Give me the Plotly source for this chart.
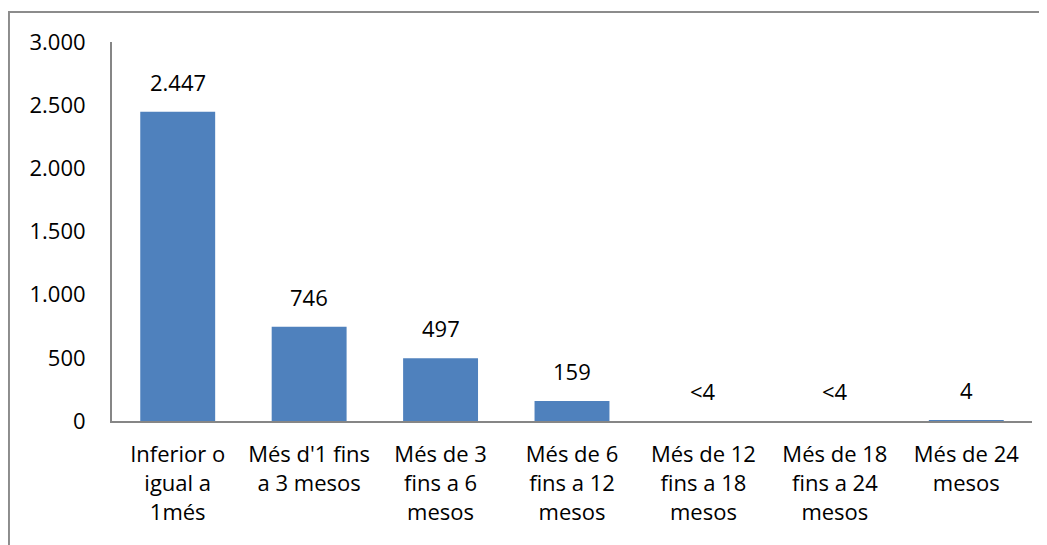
import plotly.graph_objects as go

categories = ["Inferior o<br>igual a<br>1més", "Més d'1 fins<br>a 3 mesos", "Més de 3<br>fins a 6<br>mesos",
              "Més de 6<br>fins a 12<br>mesos", "Més de 12<br>fins a 18<br>mesos", "Més de 18<br>fins a 24<br>mesos",
              "Més de 24<br>mesos"]
values = [2447, 746, 497, 159, 0, 0, 4]
value_labels = ["2.447", "746", "497", "159", "<4", "<4", "4"]
tick_vals = [0, 500, 1000, 1500, 2000, 2500, 3000]
tick_text = ["0", "500", "1.000", "1.500", "2.000", "2.500", "3.000"]

FONT = "Open Sans"
FS = 22
fig = go.Figure()
fig.add_trace(go.Bar(x=categories, y=values, marker=dict(color="#4F81BD", line=dict(width=0)),
                     hoverinfo="skip"))

for c, v, t in zip(categories, values, value_labels):
    fig.add_annotation(x=c, y=v, text=t, showarrow=False, yanchor="bottom", yshift=13,
                       font=dict(family=FONT, size=FS, color="#000000"))

fig.update_layout(
    width=1047, height=545,
    margin=dict(l=104, r=23, t=34, b=132),
    paper_bgcolor="white", plot_bgcolor="white",
    showlegend=False, bargap=0.43,
    font=dict(family=FONT, size=FS, color="#000000"),
    xaxis=dict(showline=True, linecolor="#868686", linewidth=2, ticks="", showgrid=False,
               tickangle=0, ticklabelstandoff=13, tickfont=dict(family=FONT, size=FS)),
    yaxis=dict(range=[0, 3000], tickvals=tick_vals, ticktext=tick_text, showline=True,
               linecolor="#868686", linewidth=2, ticks="", showgrid=False, zeroline=False,
               ticklabelstandoff=20, tickfont=dict(family=FONT, size=FS)),
    shapes=[dict(type="rect", xref="paper", yref="paper", x0=-0.112, x1=1.2, y0=-0.5, y1=1.079,
                 line=dict(color="#8C8C8C", width=2), fillcolor="rgba(0,0,0,0)", layer="above")],
)

fig.write_html("out.html")
